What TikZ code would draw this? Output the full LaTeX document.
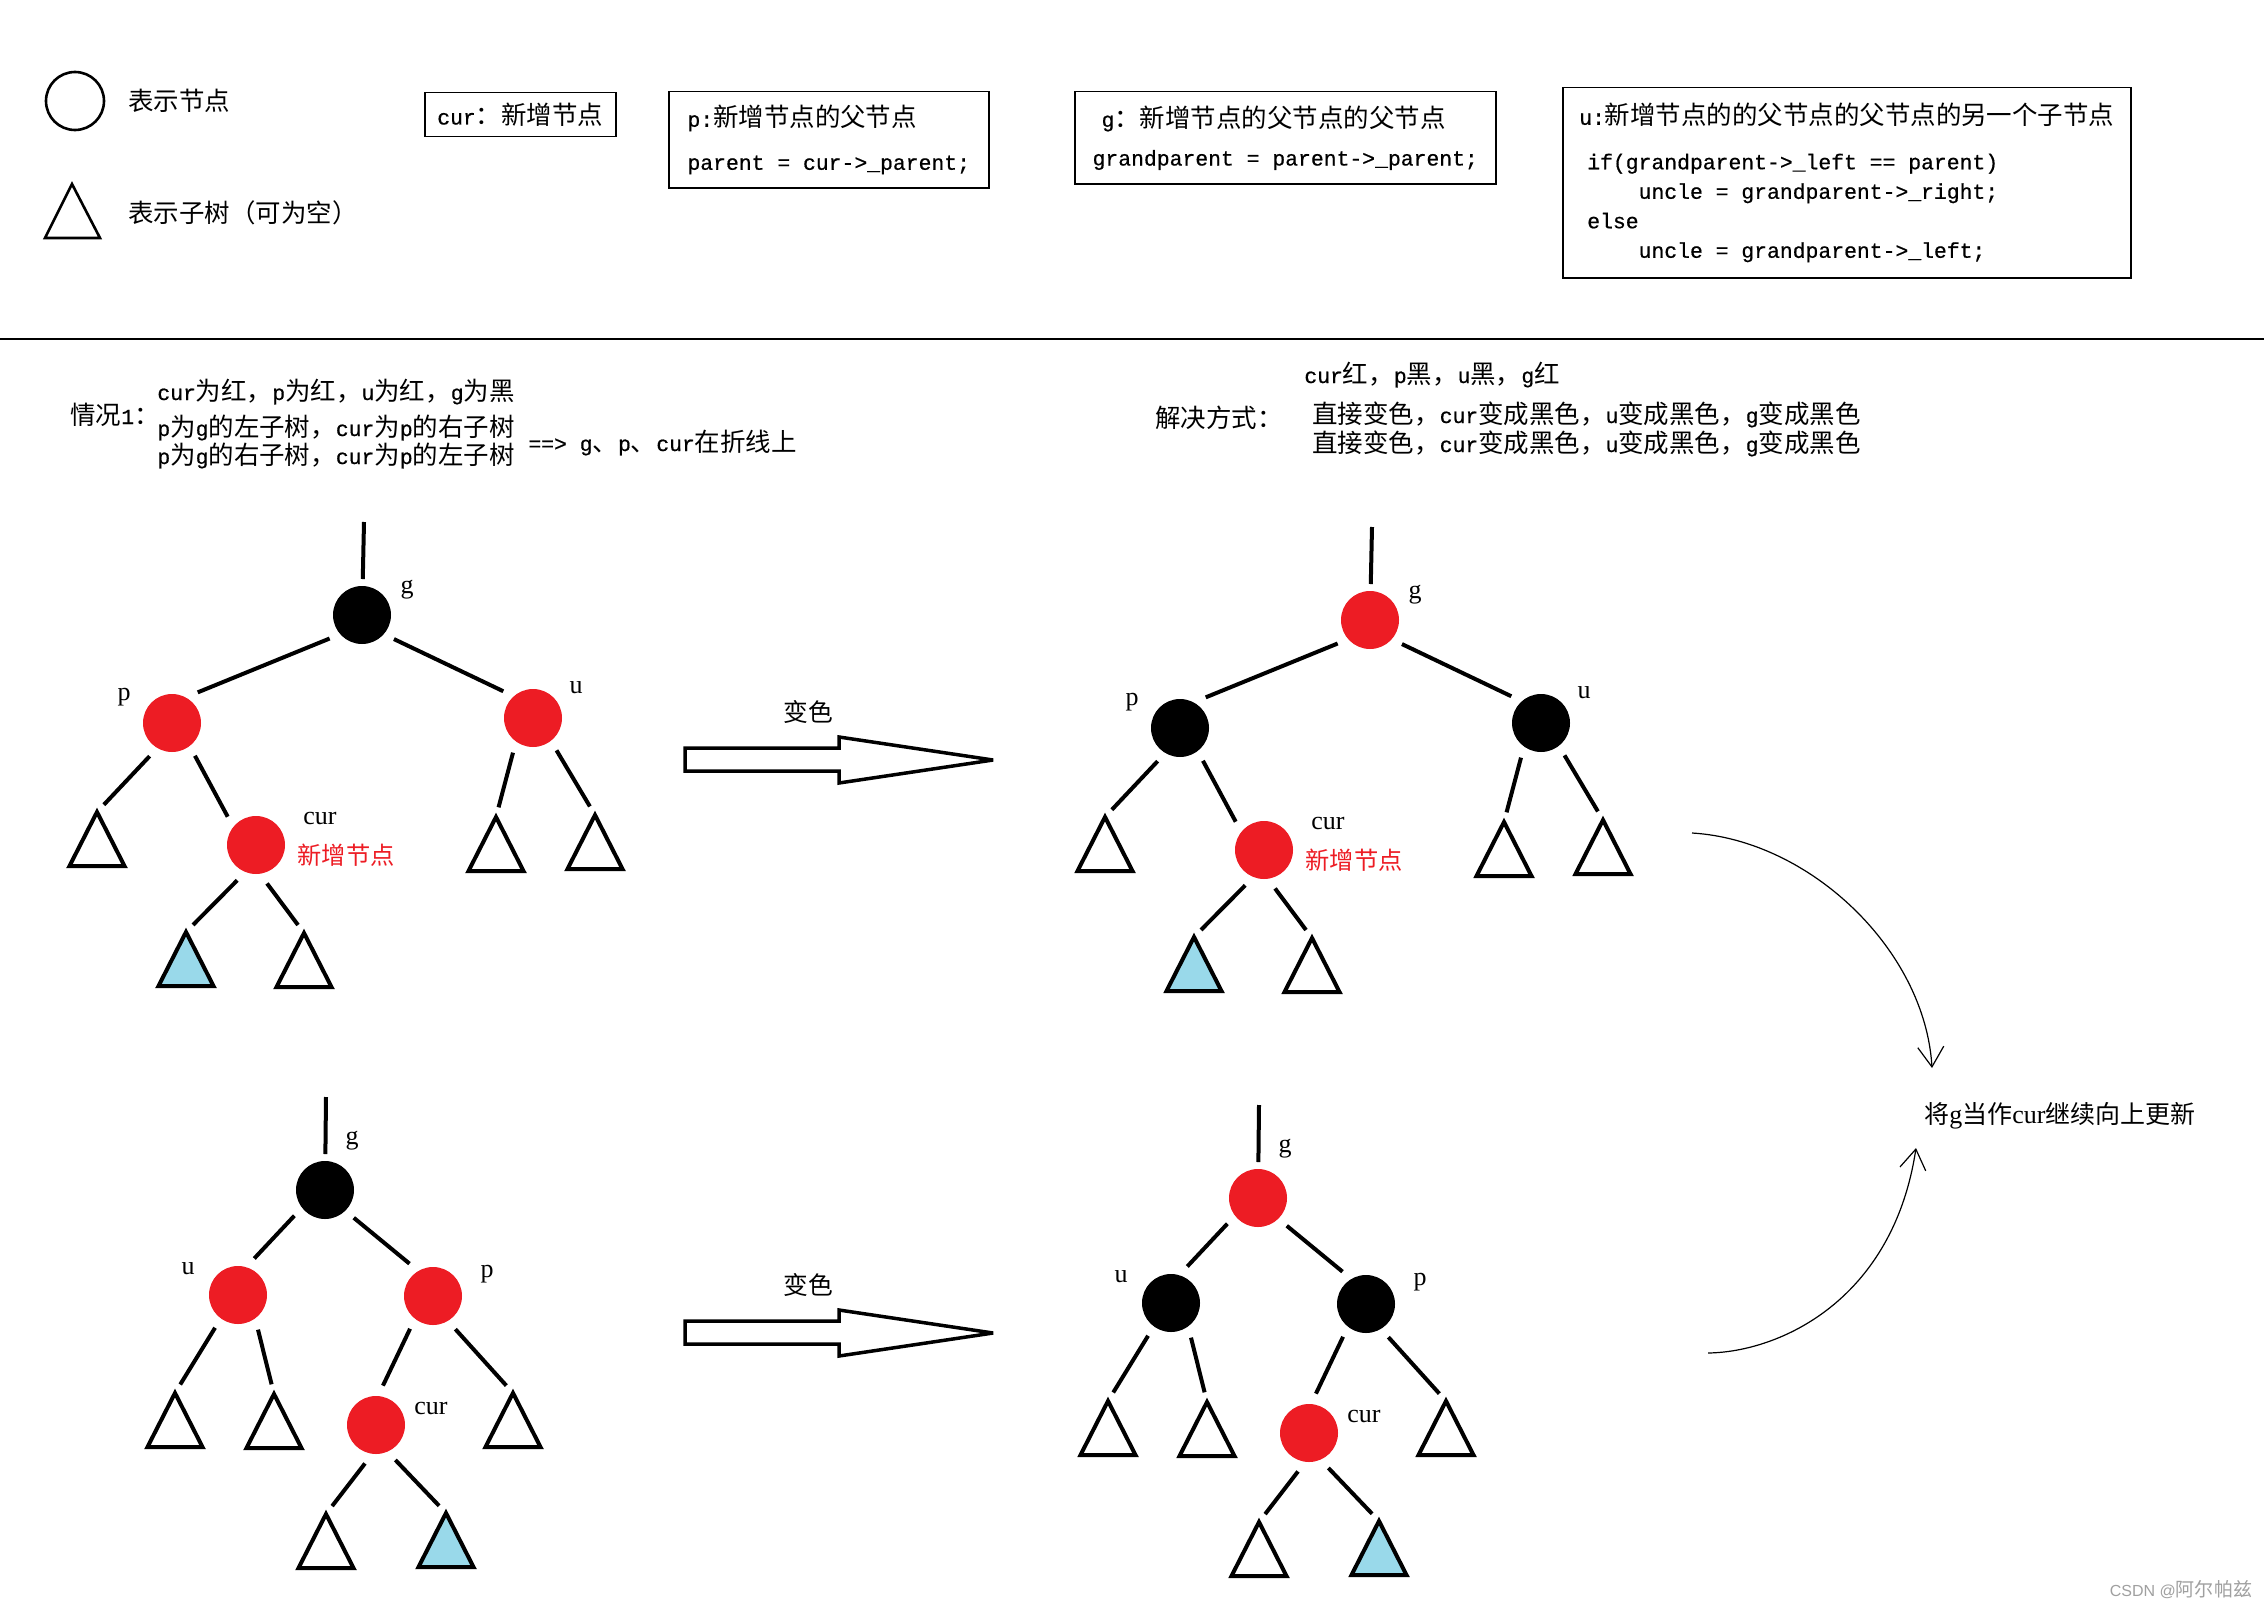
\documentclass[tikz,border=0pt]{standalone}
\usepackage{fontspec}
\setmainfont{Liberation Mono}[FakeBold=0.6]
\setsansfont{Liberation Sans}
\newfontfamily\cjk{Noto Sans CJK SC}[Scale=1.19]
\newfontfamily\labfont{Liberation Serif}
\usetikzlibrary{arrows.meta}

\definecolor{rbred}{HTML}{ED1C24}
\definecolor{subblue}{HTML}{99D9EA}
\definecolor{markgray}{HTML}{A0A0A0}

% Chinese characters pick the CJK family by themselves
\newcommand\zhon{\cjk}
\newcommand\zhoff{\rmfamily}
\newXeTeXintercharclass\zhcls
\def\setzh#1{\ifx\relax#1\else\XeTeXcharclass`#1=\zhcls\expandafter\setzh\fi}
\setzh 表示节点子树可为空新增的父另一个情况红黑左右在折线上解决方式直接变色成将当作继续向更阿尔帕兹（）：，、\relax
\XeTeXinterchartokenstate=1
\XeTeXinterchartoks 0 \zhcls = {\zhon}
\XeTeXinterchartoks 4095 \zhcls = {\zhon}
\XeTeXinterchartoks \zhcls 0 = {\zhoff}
\XeTeXinterchartoks 4095 0 = {\zhoff}

\begin{document}
\begin{tikzpicture}[
  x = 0.5pt, y = -0.5pt,
  every node/.style = {inner sep=0pt, font=\fontsize{10.7}{14.75}\selectfont},
  rb/.style         = {circle, minimum size=29pt, outer sep=5.5pt, fill=#1},
  branch/.style     = {line width=2pt},
  subtree/.style    = {line width=2pt, line join=miter, fill=#1},
  subtree/.default  = white,
  lab/.style        = {font={\labfont\def\zhoff{\labfont}\fontsize{13}{15}\selectfont}},
  newlab/.style     = {text=rbred, font=\fontsize{10.2}{12}\selectfont},
  note/.style       = {draw, line width=0.75pt, align=left, anchor=north west},
  txt/.style        = {anchor=base west},
  legendline/.style = {line width=1.3pt},
  bigarrow/.style   = {line width=1.75pt, line join=miter, miter limit=4},
  swing/.style      = {line width=0.6pt, -{Straight Barb[length=10pt, width=13pt]}},
]
\useasboundingbox[fill=white] (0,0) rectangle (2264,1616);

% legend
\node[draw, circle, minimum size=29pt, legendline] (legnode) at (75,101) {};
\node[txt] (legnodetxt) at (128,111) {表示节点};
\coordinate (legtree) at (72,184);
\draw[legendline, line join=miter] (legtree) -- ++(-27,54) -- ++(55,0) -- cycle;
\node[txt] (legtreetxt) at (128,222) {表示子树（可为空）};

% what the names mean
\node[note, minimum width=95.5pt, minimum height=22pt] (curbox) at (424,92) {cur：新增节点};
\node[note, minimum width=160pt, minimum height=48pt] (pbox) at (668,91)
  {p:新增节点的父节点\\[6.75pt]parent = cur->\_parent;};
\node[note, minimum width=210.5pt, minimum height=46pt] (gbox) at (1074,91)
  {\hspace*{4.5pt}g：新增节点的父节点的父节点\\[4.5pt]grandparent = parent->\_parent;};
\node[note, minimum width=284pt, minimum height=95pt] (ubox) at (1562,87)
  {u:新增节点的的父节点的父节点的另一个子节点\\[7.5pt]%
   \hspace*{4pt}if(grandparent->\_left == parent)\\%
   \hspace*{29.7pt}uncle = grandparent->\_right;\\%
   \hspace*{4pt}else\\%
   \hspace*{29.7pt}uncle = grandparent->\_left;};

\draw[line width=0.75pt] (0,339) -- (2264,339);

% case 1
\node[txt] (case)   at (70,424)   {情况1：};
\node[txt] (cond1)  at (157,400)  {cur为红，p为红，u为红，g为黑};
\node[txt] (cond2)  at (157,436)  {p为g的左子树，cur为p的右子树};
\node[txt] (cond3)  at (157,464)  {p为g的右子树，cur为p的左子树};
\node[txt] (zigzag) at (528,451)  {==> g、p、cur在折线上};
\node[txt] (after)  at (1304,383) {cur红，p黑，u黑，g红};
\node[txt] (fix)    at (1155,427) {解决方式：};
\node[txt] (fix1)   at (1312,423) {直接变色，cur变成黑色，u变成黑色，g变成黑色};
\node[txt] (fix2)   at (1312,452) {直接变色，cur变成黑色，u变成黑色，g变成黑色};

% top row: p is the left child of g
\foreach \tr/\gx/\gy/\gc/\pc in {a/362/615/black/rbred, b/1370/620/rbred/black} {
  \begin{scope}[shift={(\gx,\gy)}, name prefix/.expanded=\tr-]
    % level 0
    \coordinate (top) at (2,-93);
    \node[rb=\gc]   (g) at (0,0) {};
    % level 1
    \node[rb=\pc]   (p) at (-190,108) {};
    \node[rb=\pc]   (u) at (171,103) {};
    % level 2
    \node[rb=rbred] (c) at (-106,230) {};
    \foreach \nm/\xx/\yy/\fc in {t1/-265/197/white, t2/-176/317/subblue, t3/-58/318/white,
                                 t4/134/202/white,  t5/233/200/white} {
      \coordinate (\nm) at (\xx,\yy);
      \draw[subtree=\fc] (\nm) -- ++(-27.5,54) -- ++(55,0) -- cycle;
    }
    \draw[branch, shorten >=-2pt] (top) -- (g);
    \foreach \src/\sang/\dst/\dang in {g/216/p/50, g/323/u/138, p/305/c/135}
      \draw[branch] (\src.\sang) -- (\dst.\dang);
    \foreach \src/\sang/\dst in {p/236/t1, c/242/t2, c/286/t3, u/240/t4, u/306/t5}
      \draw[branch, shorten >=5pt] (\src.\sang) -- (\dst);
    \node[lab]    (gl) at (45,-25)  {g};
    \node[lab]    (pl) at (-238,82) {p};
    \node[lab]    (ul) at (214,73)  {u};
    \node[lab]    (cl) at (-42,203) {cur};
    \node[newlab] (nl) at (-16,240) {新增节点};
  \end{scope}
}

% bottom row: p is the right child of g
\foreach \tr/\gx/\gy/\gc/\pc in {c/325/1190/black/rbred, d/1258/1198/rbred/black} {
  \begin{scope}[shift={(\gx,\gy)}, name prefix/.expanded=\tr-]
    % level 0
    \coordinate (top) at (1,-93);
    \node[rb=\gc]   (g) at (0,0) {};
    % level 1
    \node[rb=\pc]   (u) at (-87,105) {};
    \node[rb=\pc]   (p) at (108,106) {};
    % level 2
    \node[rb=rbred] (c) at (51,235) {};
    \foreach \nm/\xx/\yy/\fc in {t1/-150/203/white, t2/-51/204/white, t3/188/203/white,
                                 t4/1/324/white,    t5/121/323/subblue} {
      \coordinate (\nm) at (\xx,\yy);
      \draw[subtree=\fc] (\nm) -- ++(-27.5,54) -- ++(55,0) -- cycle;
    }
    \draw[branch, shorten >=-2pt] (top) -- (g);
    \foreach \src/\sang/\dst/\dang in {g/220/u/66, g/316/p/126, p/235/c/80}
      \draw[branch] (\src.\sang) -- (\dst.\dang);
    \foreach \src/\sang/\dst in {u/235/t1, u/300/t2, p/304/t3, c/254/t4, c/299/t5}
      \draw[branch, shorten >=5pt] (\src.\sang) -- (\dst);
    \node[lab] (gl) at (27,-49)  {g};
    \node[lab] (ul) at (-137,79) {u};
    \node[lab] (pl) at (162,84)  {p};
    \node[lab] (cl) at (106,218) {cur};
  \end{scope}
}

% recolouring arrows
\foreach \k/\dy in {1/0, 2/573} {
  \node[font=\fontsize{10.4}{12}\selectfont] (recolor\k) at (808,712+\dy) {变色};
  \draw[bigarrow] (685,748+\dy) -- (839,748+\dy) -- (839,737+\dy) -- (993,760+\dy)
    -- (839,783+\dy) -- (839,771+\dy) -- (685,771+\dy) -- cycle;
}

% go on upwards
\node[anchor=west, font={\labfont\def\zhoff{\labfont\fontsize{13}{15}\selectfont}%
      \def\zhon{\cjk\fontsize{10.5}{12}\selectfont}\fontsize{10.5}{12}\selectfont}]
  (again) at (1924,1116) {将g当作cur继续向上更新};
\coordinate (fromtop) at (1692,833);
\coordinate (intop)   at (1932,1068);
\coordinate (frombot) at (1708,1353);
\coordinate (inbot)   at (1916,1148);
\draw[swing] (fromtop) .. controls (1810,840) and (1925,950) .. (intop);
\draw[swing] (frombot) .. controls (1780,1352) and (1893,1300) .. (inbot);

\node[text=markgray, font={\sffamily\def\zhoff{\sffamily}\fontsize{8}{10}\selectfont}]
  (mark) at (2181,1590) {CSDN @阿尔帕兹};

\end{tikzpicture}
\end{document}
